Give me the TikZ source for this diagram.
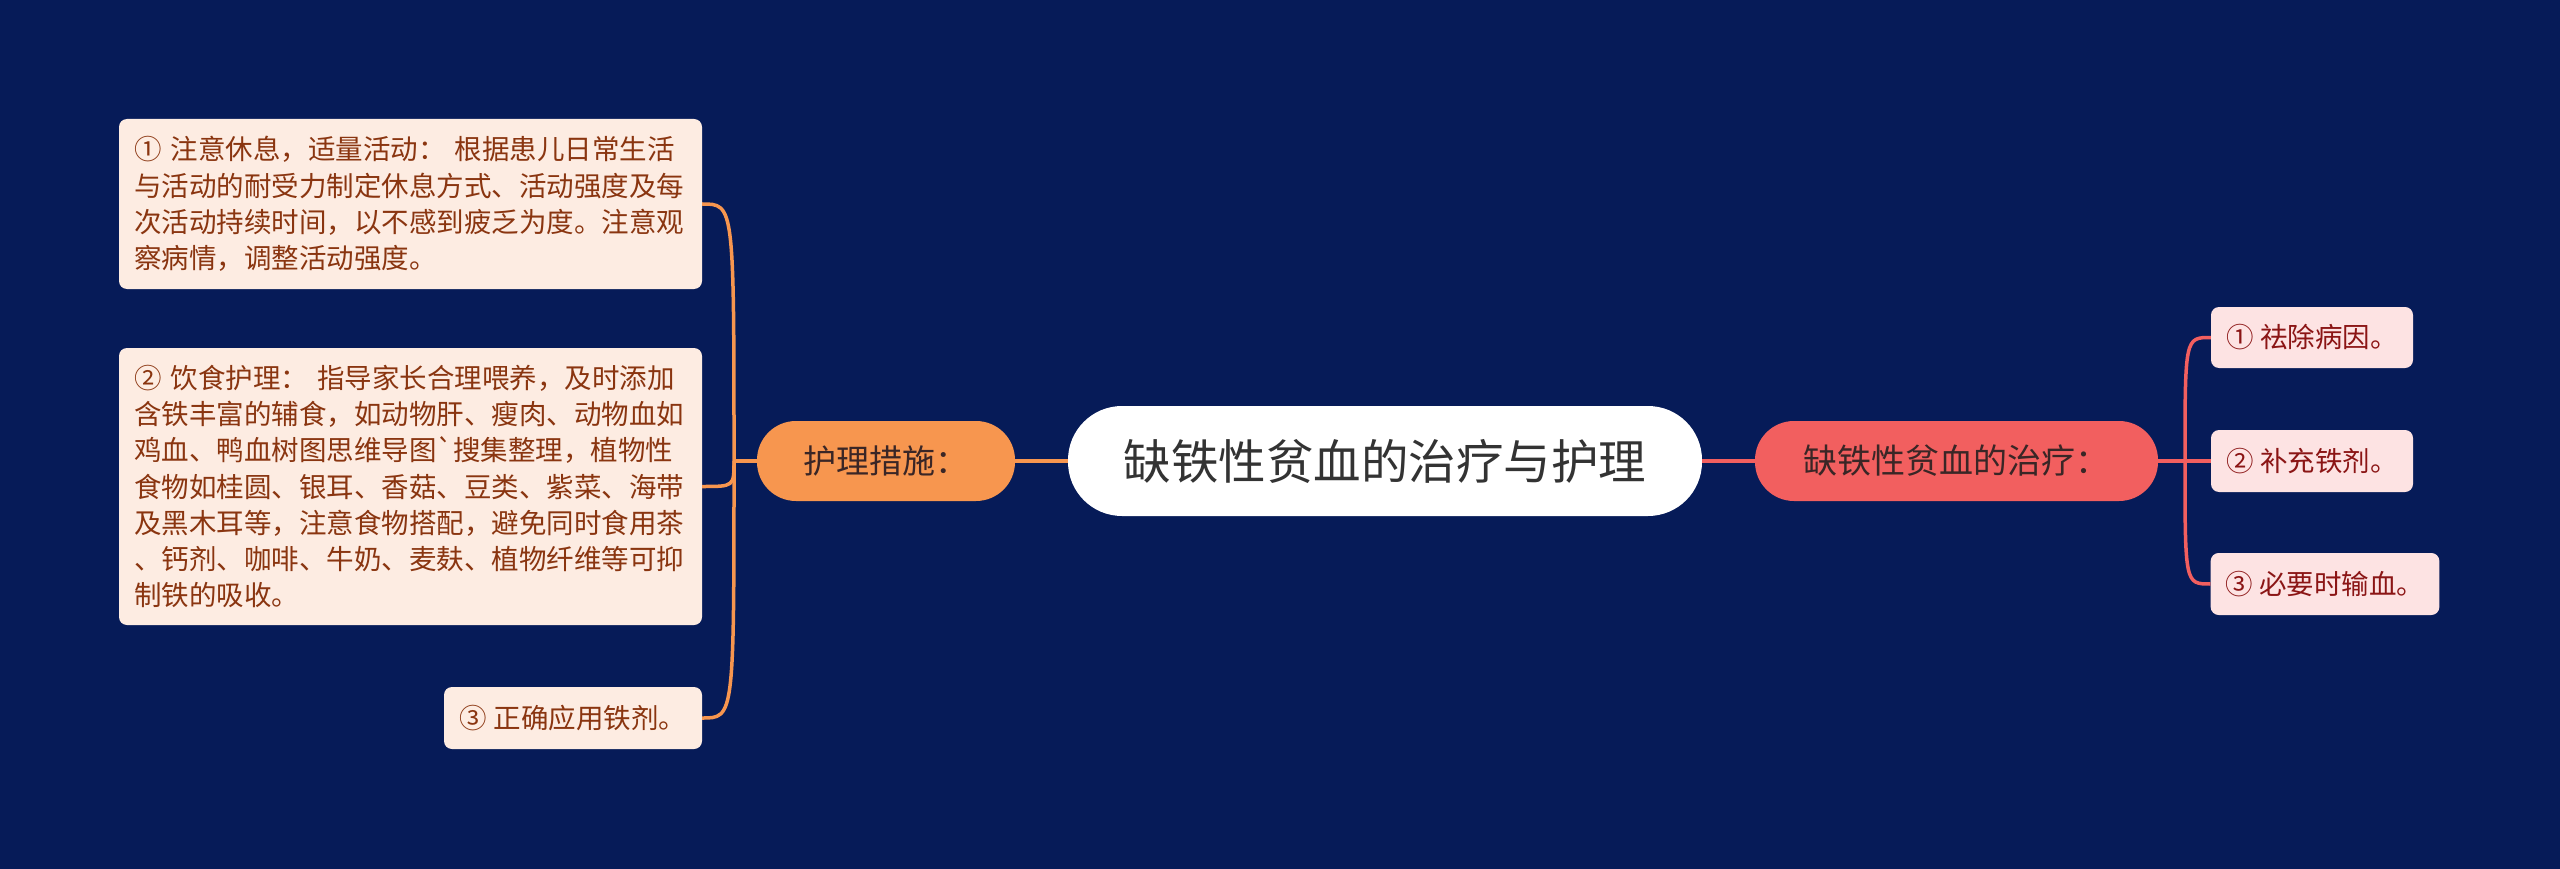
\documentclass[tikz,border=0pt]{standalone}
\usepackage{fontspec}
\setmainfont{Noto Sans CJK SC}[Ligatures=TeXOff]
\usetikzlibrary{calc}
\definecolor{bg}{HTML}{061B58}
\definecolor{orangeN}{HTML}{F7964F}
\definecolor{redN}{HTML}{F25F5F}
\definecolor{lfill}{HTML}{FDECE2}
\definecolor{ltext}{HTML}{8A3510}
\definecolor{rfill}{HTML}{FDE3E3}
\definecolor{rtext}{HTML}{8B1515}
\definecolor{roottext}{HTML}{333333}
\definecolor{subtext}{HTML}{3A2626}
\tikzset{
  rootnode/.style={fill=white, rounded corners=54pt, minimum width=634pt, minimum height=110pt,
    inner sep=0pt, text=roottext, font=\fontsize{47.5}{57}\selectfont},
  subnode/.style={rounded corners=39pt, minimum height=80pt, inner sep=0pt, text=subtext},
  lleaf/.style={fill=lfill, text=ltext, rounded corners=8pt, inner xsep=15pt, inner ysep=0pt,
    align=left, font=\fontsize{27.5}{36.3}\selectfont},
  rleaf/.style={fill=rfill, text=rtext, rounded corners=8pt, inner xsep=15pt, inner ysep=0pt,
    align=left, font=\fontsize{27.5}{36.3}\selectfont},
  oline/.style={draw=orangeN, line width=3.5pt},
  rline/.style={draw=redN, line width=3.5pt}
}
\begin{document}
\begin{tikzpicture}[x=1pt,y=-1pt]
\fill[bg] (0,0) rectangle (2560,869);
\useasboundingbox (0,0) rectangle (2560,869);

\node[rootnode] (root) at (1385,461) {缺铁性贫血的治疗与护理};
\node[subnode, fill=orangeN, minimum width=258pt, font=\fontsize{33}{40}\selectfont] (hl) at (886,461) {护理措施：};
\node[subnode, fill=redN, minimum width=403pt, font=\fontsize{34}{40}\selectfont] (hr) at (1956.5,461) {缺铁性贫血的治疗：};

\node[lleaf, text width=553pt, minimum height=170pt] (l1) at (410.5,204) {① 注意休息，适量活动： 根据患儿日常生活\\与活动的耐受力制定休息方式、活动强度及每\\次活动持续时间，以不感到疲乏为度。注意观\\察病情，调整活动强度。};
\node[lleaf, text width=553pt, minimum height=277pt] (l2) at (410.5,486.5) {② 饮食护理： 指导家长合理喂养，及时添加\\含铁丰富的辅食，如动物肝、瘦肉、动物血如\\鸡血、鸭血树图思维导图`搜集整理，植物性\\食物如桂圆、银耳、香菇、豆类、紫菜、海带\\及黑木耳等，注意食物搭配，避免同时食用茶\\、钙剂、咖啡、牛奶、麦麸、植物纤维等可抑\\制铁的吸收。};
\node[lleaf, minimum width=258pt, minimum height=62pt] (l3) at (573,718) {③ 正确应用铁剂。};

\node[rleaf, minimum width=202pt, minimum height=61pt] (r1) at (2312,337.5) {① 祛除病因。};
\node[rleaf, minimum width=202pt, minimum height=62pt] (r2) at (2312,461) {② 补充铁剂。};
\node[rleaf, minimum width=228pt, minimum height=62pt] (r3) at (2325,584) {③ 必要时输血。};

\coordinate (ls) at (734,461);
\coordinate (rs) at (2185,461);

\draw[oline] (hl.east) -- (root.west);
\draw[rline] (root.east) -- (hr.west);

\draw[oline] (hl.west) -- (ls);
\draw[oline] (ls) .. controls (ls |- l1.east) and (ls |- l1.east) .. (l1.east);
\draw[oline] (ls) .. controls (ls |- l2.east) .. (l2.east);
\draw[oline] (ls) .. controls (ls |- l3.east) and (ls |- l3.east) .. (l3.east);

\draw[rline] (hr.east) -- (r2.west);
\draw[rline] (rs) .. controls (rs |- r1.west) and (rs |- r1.west) .. (r1.west);
\draw[rline] (rs) .. controls (rs |- r3.west) and (rs |- r3.west) .. (r3.west);
\end{tikzpicture}
\end{document}
